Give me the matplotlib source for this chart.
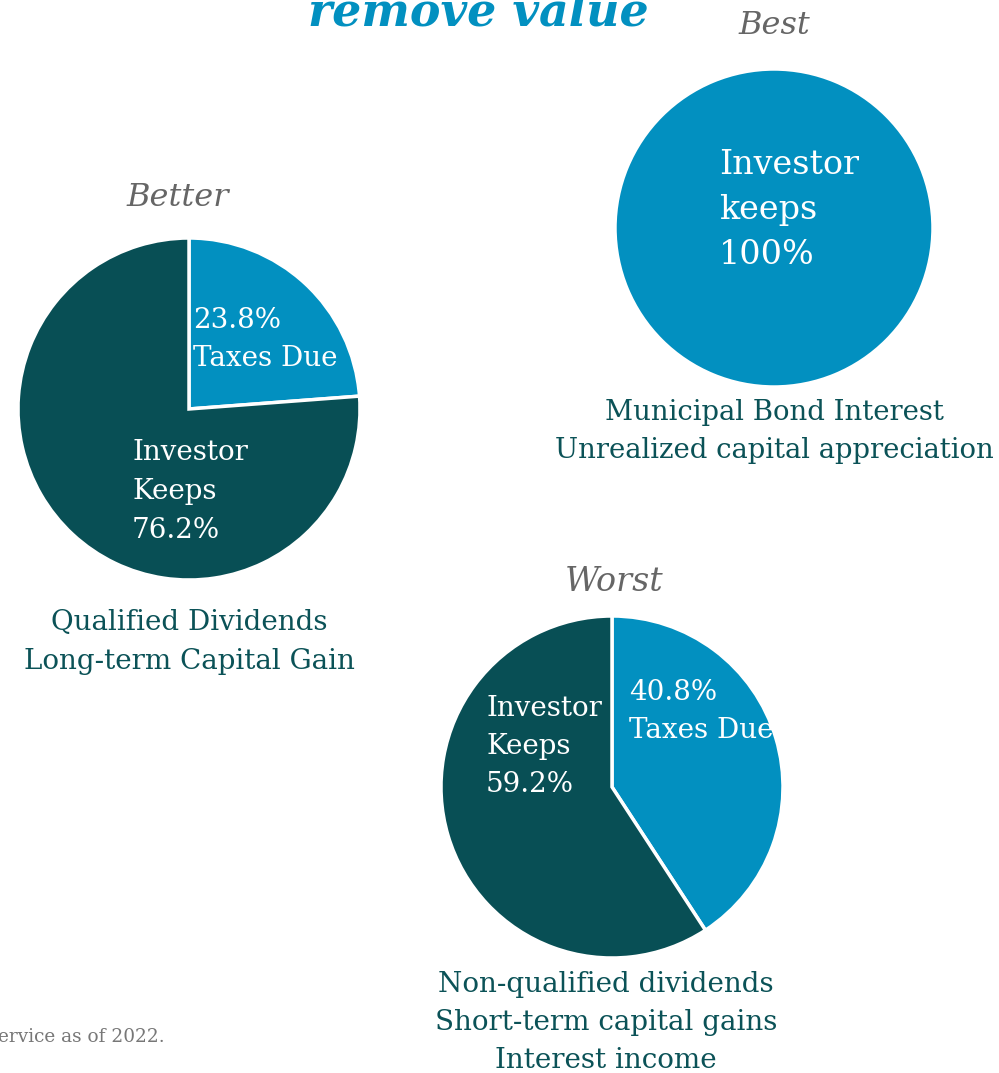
import matplotlib.pyplot as plt

plt.rcParams['font.family'] = ['DejaVu Serif']

BLUE = '#0290c0'
TEAL = '#084f55'
TEXT_TEAL = '#0b5257'
GRAY = '#666666'

# data
better_vals = [23.8, 76.2]
best_vals = [100.0]
worst_vals = [40.8, 59.2]

better_caption = ['Qualified Dividends', 'Long-term Capital Gain']
best_caption = ['Municipal Bond Interest', 'Unrealized capital appreciation']
worst_caption = ['Non-qualified dividends', 'Short-term capital gains', 'Interest income']

W, H = 999, 1073
fig = plt.figure(figsize=(W / 100, H / 100), dpi=100)
ax = fig.add_axes([0, 0, 1, 1])


def Y(y):
    # pixel row -> data y
    return H - y


def pie(vals, colors, cx, cy, r):
    ax.pie(vals, colors=colors, startangle=90, counterclock=False,
           center=(cx, Y(cy)), radius=r,
           wedgeprops=dict(edgecolor='white', linewidth=2.5))


def lines(txt, x, y0, step, size, color, ha='left', style='normal'):
    for i, t in enumerate(txt):
        ax.text(x, Y(y0 + i * step), t, ha=ha, va='center', fontsize=size,
                color=color, style=style)


pie(better_vals, [BLUE, TEAL], 189, 409, 171)
pie(best_vals, [BLUE], 774, 228, 159)
pie(worst_vals, [BLUE, TEAL], 612, 787, 171)

# title (cropped at top in the original)
ax.text(478, Y(26), 'remove value', ha='center', va='baseline', fontsize=33,
        color=BLUE, weight='bold', style='italic')

ax.text(774, Y(25), 'Best', ha='center', va='center', fontsize=23, color=GRAY, style='italic')
ax.text(178, Y(197), 'Better', ha='center', va='center', fontsize=23, color=GRAY, style='italic')
ax.text(614, Y(582), 'Worst', ha='center', va='center', fontsize=24, color=GRAY, style='italic')

# in-pie labels
lines([f'{better_vals[0]}%', 'Taxes Due'], 193, 321, 37, 20, 'white')
lines(['Investor', 'Keeps', f'{better_vals[1]}%'], 132, 453, 38.5, 20, 'white')
lines(['Investor', 'keeps', f'{best_vals[0]:.0f}%'], 719, 165, 45, 24, 'white')
lines([f'{worst_vals[0]}%', 'Taxes Due'], 629, 693, 37, 20, 'white')
lines(['Investor', 'Keeps', f'{worst_vals[1]}%'], 486, 708, 38.5, 20, 'white')

# captions
lines(better_caption, 189, 623, 38.5, 20, TEXT_TEAL, ha='center')
lines(best_caption, 774, 412, 39, 19.8, TEXT_TEAL, ha='center')
lines(worst_caption, 606, 984, 38, 20, TEXT_TEAL, ha='center')

ax.text(-2, Y(1037), 'ervice as of 2022.', ha='left', va='center', fontsize=13.3, color='#777777')

ax.set_xlim(0, W)
ax.set_ylim(0, H)
ax.set_aspect('equal')
ax.axis('off')

fig.savefig('out.png', dpi=100)
